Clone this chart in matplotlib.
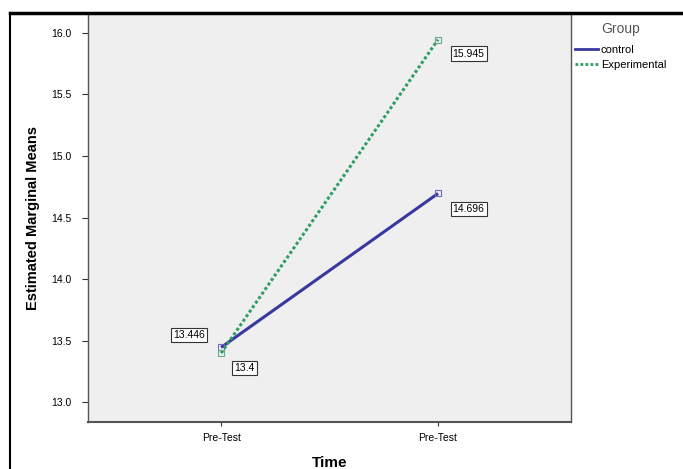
import matplotlib
matplotlib.use("Agg")
import matplotlib.pyplot as plt
from matplotlib.lines import Line2D

plt.rcParams["font.family"] = ["Liberation Sans", "DejaVu Sans"]

time_labels = ["Pre-Test", "Pre-Test"]
groups = ["control", "Experimental"]
control_vals = [13.446, 14.696]
experimental_vals = [13.4, 15.945]
yticks = [13.0, 13.5, 14.0, 14.5, 15.0, 15.5, 16.0]

fig = plt.figure(figsize=(6.83, 4.69), dpi=100)
fig.patch.set_facecolor("white")
ax = fig.add_axes([0.129, 0.100, 0.707, 0.872])
ax.set_facecolor("#efefef")

x = list(range(len(time_labels)))
ax.plot(x, control_vals, color="#3838a0", lw=2.2, solid_capstyle="butt",
        marker="s", ms=4, mfc="none", mec="#6a6ac0", mew=0.8)
ax.plot(x, experimental_vals, color="#2e9e62", lw=2.2, ls=(0, (1.0, 0.8)),
        marker="s", ms=4, mfc="none", mec="#6aa98a", mew=0.8)

box = dict(boxstyle="square,pad=0.2", fc="white", ec="#333333", lw=0.8)
fs = 7.5
ax.annotate(f"{control_vals[0]:.3f}", (x[0], control_vals[0]), xytext=(-23, 9),
            textcoords="offset points", ha="center", va="center", fontsize=fs, bbox=box)
ax.annotate(f"{experimental_vals[0]:g}", (x[0], experimental_vals[0]), xytext=(17, -11),
            textcoords="offset points", ha="center", va="center", fontsize=fs, bbox=box)
ax.annotate(f"{experimental_vals[1]:.3f}", (x[1], experimental_vals[1]), xytext=(22, -10),
            textcoords="offset points", ha="center", va="center", fontsize=fs, bbox=box)
ax.annotate(f"{control_vals[1]:.3f}", (x[1], control_vals[1]), xytext=(22, -11),
            textcoords="offset points", ha="center", va="center", fontsize=fs, bbox=box)

ax.set_xlim(-0.613, 1.613)
ax.set_ylim(12.84, 16.16)
ax.set_xticks(x)
ax.set_xticklabels(time_labels, fontsize=7.5)
ax.set_yticks(yticks)
ax.set_yticklabels([f"{v:.1f}" for v in yticks], fontsize=7.5)
ax.tick_params(axis="x", length=3, width=0.8, color="#333333", pad=5)
ax.tick_params(axis="y", length=4, width=0.8, color="#333333", pad=8)
for s in ax.spines.values():
    s.set_color("#555555")
    s.set_linewidth(1.0)
ax.spines["bottom"].set_linewidth(1.5)

ax.set_ylabel("Estimated Marginal Means", fontsize=10.5, fontweight="bold", labelpad=8)
ax.set_xlabel("Time", fontsize=11, fontweight="bold", labelpad=9)

handles = [Line2D([], [], color="#3838a0", lw=2),
           Line2D([], [], color="#2e9e62", lw=2, ls=(0, (1.0, 0.8)))]
leg = fig.legend(handles, groups, title="Group", loc="upper left",
                 bbox_to_anchor=(0.836, 0.962), frameon=False, fontsize=8,
                 title_fontsize=10, handlelength=2.0, handletextpad=0.3,
                 labelspacing=0.45, borderaxespad=0.0)
leg.get_title().set_color("#555555")
leg._legend_box.sep = 6

# outer frame lines (top and left)
fig.add_artist(Line2D([0.015, 1.0], [0.972, 0.972], color="black", lw=2.5,
                      transform=fig.transFigure))
fig.add_artist(Line2D([0.015, 0.015], [0.0, 0.972], color="black", lw=1.5,
                      transform=fig.transFigure))

fig.savefig("out.png", dpi=100)
